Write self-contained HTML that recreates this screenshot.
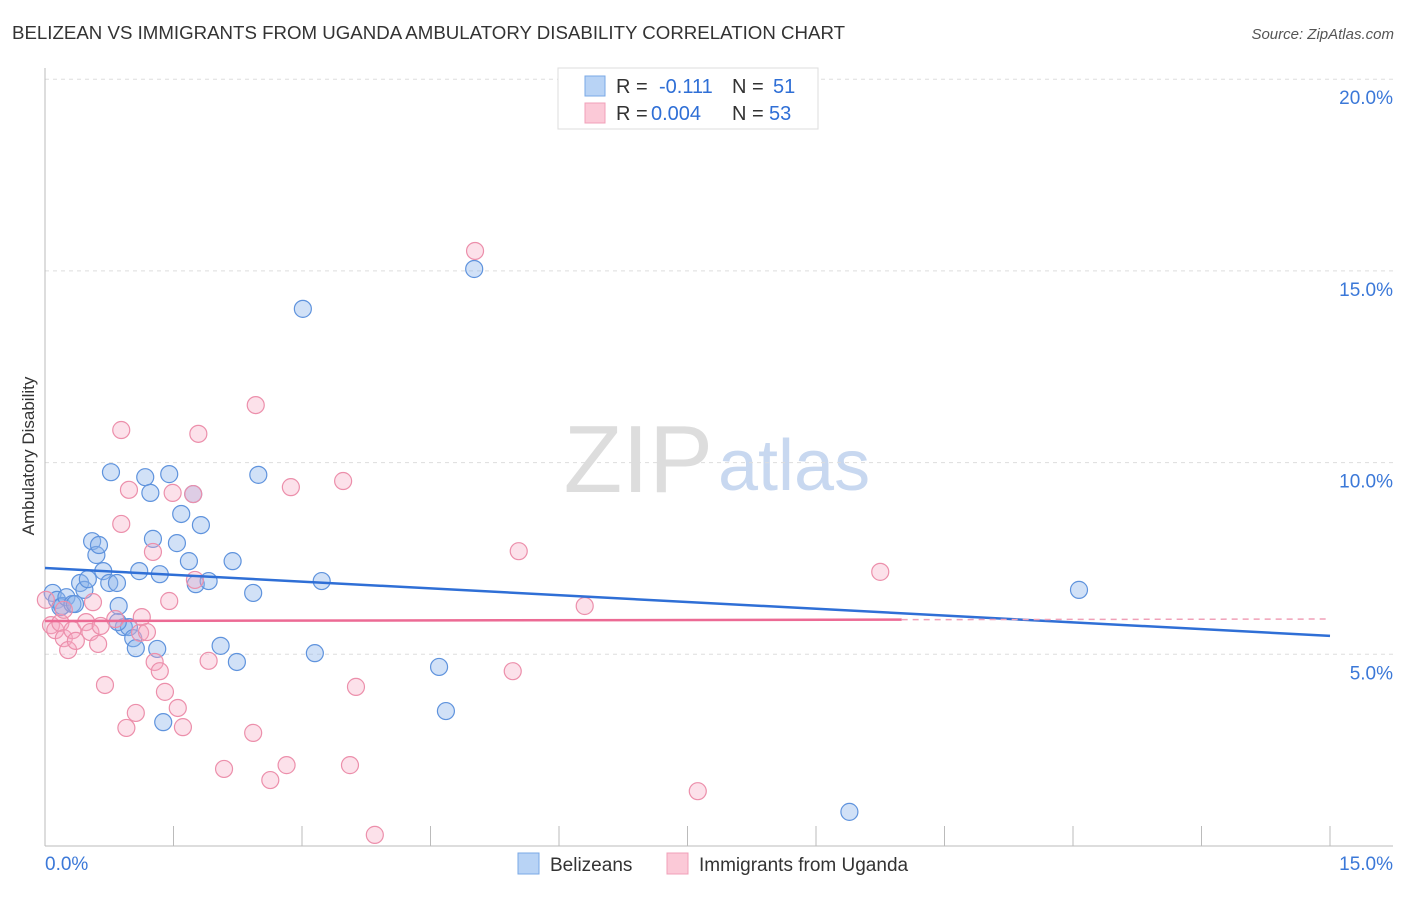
<!DOCTYPE html>
<html><head><meta charset="utf-8"><style>
body{margin:0;background:#fff;font-family:"Liberation Sans",sans-serif}
svg text{font-family:"Liberation Sans",sans-serif}
</style></head><body>
<svg width="1406" height="892">
<text x="12" y="39" font-size="18" fill="#333" textLength="833" lengthAdjust="spacingAndGlyphs">BELIZEAN VS IMMIGRANTS FROM UGANDA AMBULATORY DISABILITY CORRELATION CHART</text>
<text x="1394" y="39" font-size="15" fill="#555" text-anchor="end" font-style="italic">Source: ZipAtlas.com</text>
<text x="713" y="492" font-size="96" fill="#ddd" text-anchor="end" font-family="Liberation Serif">ZIP</text>
<text x="718" y="490" font-size="72" fill="#c8d8f0">atlas</text>
<g id="grid"></g><g id="axes"></g><g id="pts"></g><g id="lines"></g>
<text transform="translate(34,456) rotate(-90)" font-size="17" fill="#333" text-anchor="middle">Ambulatory Disability</text>
<g>
<rect x="558" y="68" width="260" height="61" fill="#fff" stroke="#ddd"/>
<rect x="585" y="76" width="20" height="20" fill="#b8d3f5" stroke="#7aa8e6"/>
<rect x="585" y="103" width="20" height="20" fill="#fbc9d7" stroke="#f0a0b8"/>
<text y="93" font-size="20" fill="#333"><tspan x="616">R =</tspan><tspan x="659" fill="#2f6fd6">-0.111</tspan><tspan x="732">N =</tspan><tspan x="773" fill="#2f6fd6">51</tspan></text>
<text y="120" font-size="20" fill="#333"><tspan x="616">R =</tspan><tspan x="651" fill="#2f6fd6">0.004</tspan><tspan x="732">N =</tspan><tspan x="769" fill="#2f6fd6">53</tspan></text>
</g>
<g>
<rect x="518" y="853" width="21" height="21" fill="#b8d3f5" stroke="#7aa8e6"/>
<text x="550" y="871" font-size="19" fill="#333">Belizeans</text>
<rect x="667" y="853" width="21" height="21" fill="#fbc9d7" stroke="#f0a0b8"/>
<text x="699" y="871" font-size="19" fill="#333">Immigrants from Uganda</text>
</g>
</svg>
<script>
const blueX=[.09,.14,.18,.20,.25,.32,.35,.41,.46,.50,.55,.60,.63,.68,.75,.77,.84,.86,.92,.98,1.03,1.06,1.10,1.17,1.23,1.26,1.31,1.34,1.38,1.45,1.54,1.59,1.68,1.73,1.76,1.82,1.91,2.05,2.19,2.24,2.43,2.49,3.01,3.15,3.23,4.60,4.68,5.01,9.39,12.07,.85];
const blueY=[6.60,6.42,6.23,6.26,6.49,6.31,6.31,6.86,6.68,6.96,7.95,7.59,7.85,7.17,6.86,9.75,6.86,6.26,5.71,5.71,5.42,5.16,7.17,9.62,9.21,8.01,5.14,7.09,3.23,9.70,7.90,8.66,7.43,9.18,6.83,8.37,6.91,5.22,7.43,4.80,6.60,9.68,14.01,5.03,6.91,4.67,3.52,15.05,0.89,6.68,5.84];
const pinkX=[.07,.12,.18,.22,.27,.32,.36,.48,.53,.56,.62,.65,.70,.82,.89,.89,.95,.98,1.06,1.11,1.13,1.19,1.26,1.28,1.34,1.40,1.45,1.49,1.55,1.61,1.73,1.75,1.79,1.91,2.09,2.43,2.46,2.63,2.82,2.87,3.48,3.56,3.63,3.85,5.02,5.46,5.53,6.30,7.62,9.75,.01,.22];
const pinkY=[5.76,5.63,5.82,5.42,5.11,5.63,5.35,5.84,5.58,6.36,5.27,5.74,4.20,5.92,8.40,10.85,3.08,9.29,3.47,5.56,5.97,5.58,7.67,4.80,4.56,4.02,6.39,9.21,3.60,3.10,9.18,6.94,10.75,4.83,2.01,2.95,11.50,1.72,2.11,9.36,9.52,2.11,4.15,0.29,15.52,4.56,7.69,6.26,1.43,7.15,6.42,6.16];
const yTicks=[5,10,15,20];
const yTickLabels=["5.0%","10.0%","15.0%","20.0%"];
const xTicks=[0,1.5,3,4.5,6,7.5,9,10.5,12,13.5,15];
const blueTrend=[7.25,5.48];
const pinkTrend=[5.87,5.92];
const pinkSolidEnd=10.0;
const NS="http://www.w3.org/2000/svg";
const X=v=>45+v/15*1285, Y=v=>846-v/5*191.7;
function mk(p,t,a){const e=document.createElementNS(NS,t);for(const k in a)e.setAttribute(k,a[k]);document.getElementById(p).appendChild(e);return e;}
yTicks.forEach((t,i)=>{
 const l=mk('grid','line',{x1:45,x2:1393,y1:Y(t),y2:Y(t),stroke:'#ddd','stroke-dasharray':'4,4'});
 
 
 const tx=mk('grid','text',{x:1393,y:Y(t)+25,'font-size':19,fill:'#3b78d8','text-anchor':'end'});
 tx.textContent=yTickLabels[i];
 
 
});
mk('axes','line',{x1:45,x2:45,y1:68,y2:846,stroke:'#bbb'});
mk('axes','line',{x1:45,x2:1393,y1:846,y2:846,stroke:'#bbb'});
xTicks.forEach(t=>{const l=mk('axes','line',{x1:X(t),x2:X(t),y1:826,y2:846,stroke:'#bbb'});
 
 });
const xl=mk('axes','text',{x:45,y:870,'font-size':19,fill:'#3b78d8'});xl.textContent='0.0%';


const xr=mk('axes','text',{x:1393,y:870,'font-size':19,fill:'#3b78d8','text-anchor':'end'});xr.textContent='15.0%';


blueX.forEach((v,i)=>{const c=mk('pts','circle',{cx:X(v),cy:Y(blueY[i]),r:8.5,fill:'rgba(140,180,235,0.4)',stroke:'#5f93dd','stroke-width':1.2});
 
 });
pinkX.forEach((v,i)=>{const c=mk('pts','circle',{cx:X(v),cy:Y(pinkY[i]),r:8.5,fill:'rgba(245,170,195,0.35)',stroke:'#ec8fab','stroke-width':1.2});
 
 });
const bl=mk('lines','line',{x1:X(0),y1:Y(blueTrend[0]),x2:X(15),y2:Y(blueTrend[1]),stroke:'#2f6fd6','stroke-width':2.5});


const pm=pinkTrend[0]+(pinkTrend[1]-pinkTrend[0])*pinkSolidEnd/15;
const pl=mk('lines','line',{x1:X(0),y1:Y(pinkTrend[0]),x2:X(pinkSolidEnd),y2:Y(pm),stroke:'#ec6a94','stroke-width':2.5});


const pd=mk('lines','line',{x1:X(pinkSolidEnd),y1:Y(pm),x2:X(15),y2:Y(pinkTrend[1]),stroke:'#f0a0b8','stroke-width':1.5,'stroke-dasharray':'6,5'});


</script>
</body></html>
